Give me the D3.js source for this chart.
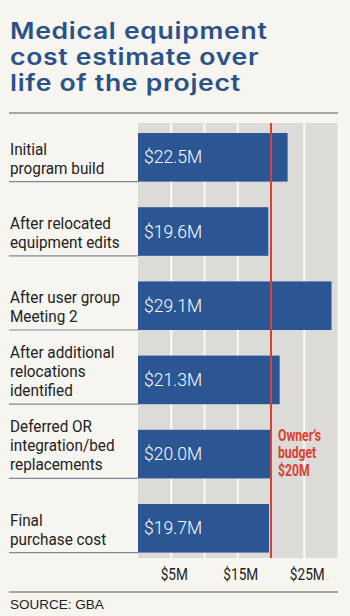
<!DOCTYPE html>
<html><head><meta charset="utf-8">
<script src="https://cdn.jsdelivr.net/npm/d3@7"></script>
<style>
html,body{margin:0;padding:0;background:#f7f5f0;}
svg{display:block;}
</style></head>
<body>
<script>
const titleLines = ["Medical equipment", "cost estimate over", "life of the project"];
const categories = [
  ["Initial", "program build"],
  ["After relocated", "equipment edits"],
  ["After user group", "Meeting 2"],
  ["After additional", "relocations", "identified"],
  ["Deferred OR", "integration/bed", "replacements"],
  ["Final", "purchase cost"]
];
const values = [22.5, 19.6, 29.1, 21.3, 20.0, 19.7];
const valueLabels = ["$22.5M", "$19.6M", "$29.1M", "$21.3M", "$20.0M", "$19.7M"];
const gridValues = [5, 10, 15, 20, 25];
const tickValues = [5, 15, 25];
const tickLabels = ["$5M", "$15M", "$25M"];
const budget = 20;
const budgetLines = ["Owner\u2019s", "budget", "$20M"];
const source = "SOURCE: GBA";

const W = 350, H = 616;
const svg = d3.select("body").append("svg").attr("width", W).attr("height", H);
svg.append("rect").attr("width", W).attr("height", H).attr("fill", "#f7f5f0");

const blue = "#2b5693", red = "#d8412f";
const narrow = "Roboto, sans-serif";

// Title
svg.append("g").selectAll("text").data(titleLines).join("text")
  .attr("transform", (d, i) => `translate(10,${39 + i * 26}) scale(1.18,1)`)
  .attr("fill", "#2a5288")
  .style("font-family", "Inter, sans-serif")
  .style("font-weight", "600")
  .style("font-size", "22.5px")
  .style("letter-spacing", "0.6px")
  .text(d => d);

svg.append("line").attr("x1", 9).attr("x2", 338).attr("y1", 113).attr("y2", 113)
  .attr("stroke", "#8d8a80").attr("stroke-width", 1.5);

const x = d3.scaleLinear().domain([0, 30]).range([138, 337.5]);
const y = d3.scaleBand().domain(d3.range(categories.length)).range([123, 562.6]).paddingInner(0.345).paddingOuter(0.135);

const plotTop = 123, plotBottom = 558;
// grey background
svg.append("rect").attr("x", x(0)).attr("y", plotTop).attr("width", x(30) - x(0)).attr("height", plotBottom - plotTop)
  .attr("fill", "#dcdbd8");
svg.append("g").selectAll("line").data(gridValues).join("line")
  .attr("x1", d => x(d)).attr("x2", d => x(d)).attr("y1", plotTop).attr("y2", plotBottom)
  .attr("stroke", "#fbfaf7").attr("stroke-width", 2);

// bars
const bars = svg.append("g");
bars.selectAll("rect").data(values).join("rect")
  .attr("x", x(0)).attr("y", (d, i) => y(i)).attr("width", d => x(d) - x(0)).attr("height", y.bandwidth())
  .attr("fill", blue);
bars.selectAll("text").data(valueLabels).join("text")
  .attr("transform", (d, i) => `translate(${x(0) + 6},${y(i) + y.bandwidth() / 2 + 6})`)
  .attr("fill", "#fff").style("font-family", narrow).style("font-size", "17.5px").style("font-weight", "300")
  .text(d => d);

// separator lines and labels
const rows = svg.append("g").selectAll("g").data(categories).join("g");
rows.append("line").attr("x1", 9).attr("x2", x(0)).attr("y1", (d, i) => y(i) + y.bandwidth()).attr("y2", (d, i) => y(i) + y.bandwidth())
  .attr("stroke", "#7f889a").attr("stroke-width", 1.2);
rows.each(function(lines, i) {
  const g = d3.select(this);
  const n = lines.length;
  g.selectAll("text").data(lines).join("text")
    .attr("transform", (d, j) => `translate(10,${y(i) + y.bandwidth() - 8 - (n - 1 - j) * 19}) scale(0.9,1)`)
    .attr("fill", "#222").style("font-family", narrow).style("font-size", "17px")
    .text(d => d);
});

// budget line
svg.append("line").attr("x1", x(budget)).attr("x2", x(budget)).attr("y1", plotTop).attr("y2", plotBottom)
  .attr("stroke", red).attr("stroke-width", 2);
svg.append("g").selectAll("text").data(budgetLines).join("text")
  .attr("transform", (d, i) => `translate(${x(budget) + 7},${441 + i * 17.3}) scale(0.76,1)`)
  .attr("fill", red).style("font-family", narrow).style("font-weight", "bold").style("font-size", "16px")
  .text(d => d);

// tick labels
svg.append("g").selectAll("text").data(tickValues).join("text")
  .attr("transform", d => `translate(${x(d) + 3},580) scale(0.8,1)`).attr("text-anchor", "middle")
  .attr("fill", "#222").style("font-family", narrow).style("font-size", "17px")
  .text((d, i) => tickLabels[i]);

// footer
svg.append("line").attr("x1", 9).attr("x2", 338).attr("y1", 592).attr("y2", 592)
  .attr("stroke", "#8d8a80").attr("stroke-width", 1.5);
svg.append("text").attr("x", 10).attr("y", 609).attr("fill", "#222")
  .style("font-family", "'Liberation Sans', sans-serif").style("font-size", "13.5px").text(source);
</script>
</body></html>
